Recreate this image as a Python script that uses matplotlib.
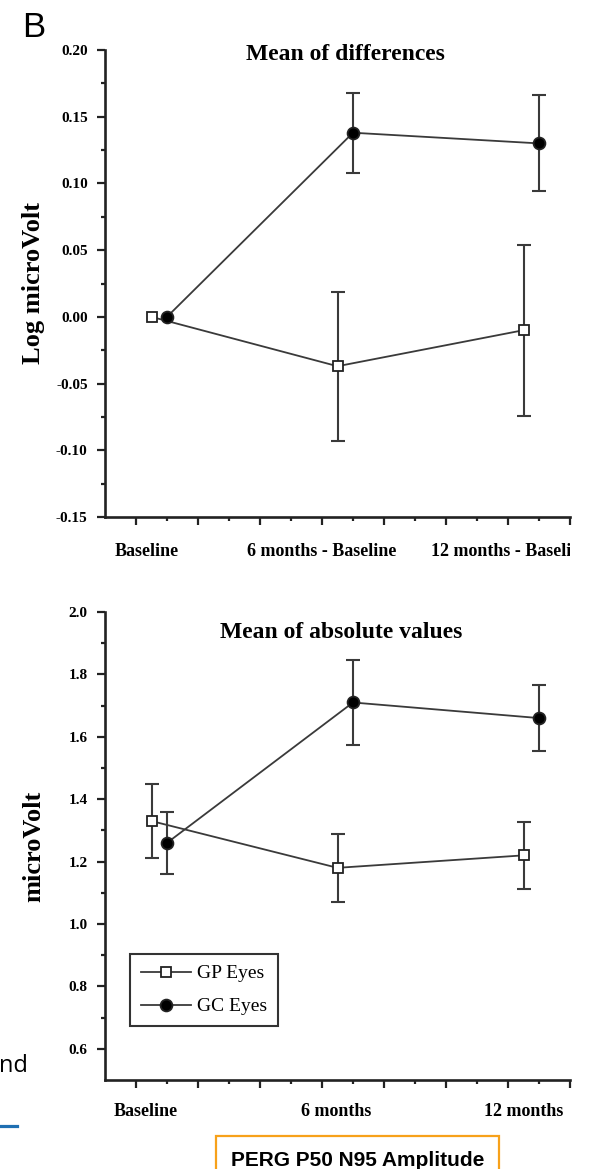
import numpy as np
import matplotlib
matplotlib.use('Agg')
import matplotlib.pyplot as plt
from matplotlib.lines import Line2D
from matplotlib.patches import Rectangle
from matplotlib.transforms import Bbox, TransformedBbox

plt.rcParams['font.family'] = ['Liberation Serif', 'DejaVu Serif']

# data
x_gp = [1.5, 7.5, 13.5]
x_gc = [2.0, 8.0, 14.0]

diff_gp = [0.0, -0.037, -0.010]
diff_gp_err = [0.0, 0.056, 0.064]
diff_gc = [0.0, 0.138, 0.130]
diff_gc_err = [0.0, 0.030, 0.036]

abs_gp = [1.33, 1.18, 1.22]
abs_gp_err = [0.12, 0.11, 0.107]
abs_gc = [1.26, 1.71, 1.66]
abs_gc_err = [0.10, 0.135, 0.105]

top_labels = ['Baseline', '6 months - Baseline', '12 months - Baseline']
top_label_x = [1.35, 7.0, 10.5]
bot_labels = ['Baseline', '6 months', '12 months']
bot_label_x = [1.32, 7.45, 13.5]

W, H = 592, 1169
fig = plt.figure(figsize=(W / 100, H / 100), dpi=100)

line_c = '#3a3a3a'
spine_c = '#222222'


def px(x0, y0, x1, y1):
    # pixel box -> figure fraction rect
    return [x0 / W, 1 - y1 / H, (x1 - x0) / W, (y1 - y0) / H]


def draw_series(ax, x, y, err, marker, mfc, ms, label):
    x = np.array(x)
    y = np.array(y)
    err = np.array(err)
    m = err > 0
    ax.errorbar(x[m], y[m], yerr=err[m], fmt='none', ecolor=line_c,
                elinewidth=1.5, capsize=4.8, capthick=1.5, zorder=2)
    ax.plot(x, y, color=line_c, lw=1.3, marker=marker, ms=ms, mfc=mfc,
            mec='#222222', mew=1.3, zorder=3, label=label)


def style_axes(ax, ylim, ymaj, ymin, fmt):
    ax.set_xlim(0, 15)
    ax.set_ylim(*ylim)
    for s in ['top', 'right']:
        ax.spines[s].set_visible(False)
    for s in ['left', 'bottom']:
        ax.spines[s].set_linewidth(1.9)
        ax.spines[s].set_color(spine_c)
    ax.set_xticks(np.arange(1, 16, 2))
    ax.set_xticks(np.arange(2, 15, 2), minor=True)
    ax.set_xticklabels([])
    ax.set_yticks(ymaj)
    ax.set_yticks(ymin, minor=True)
    ax.set_yticklabels([fmt % v for v in ymaj])
    ax.tick_params(which='major', length=6, width=1.6, color=spine_c, pad=6.5)
    ax.tick_params(which='minor', length=3, width=1.6, color=spine_c)
    for t in ax.get_yticklabels():
        t.set_fontweight('bold')
        t.set_fontsize(11)


# ---------- top panel: mean of differences ----------
ax1 = fig.add_axes(px(105, 50, 570, 517))
draw_series(ax1, x_gp, diff_gp, diff_gp_err, 's', 'white', 7.5, 'GP Eyes')
draw_series(ax1, x_gc, diff_gc, diff_gc_err, 'o', 'black', 8.5, 'GC Eyes')
style_axes(ax1, (-0.15, 0.20), np.arange(-0.15, 0.201, 0.05),
           np.arange(-0.125, 0.2, 0.05), '%.2f')
ax1.set_ylabel('Log microVolt', fontsize=19, fontweight='bold')
ax1.yaxis.set_label_coords(-0.128, 0.5)
ax1.text(0.516, 0.99, 'Mean of differences', transform=ax1.transAxes,
         ha='center', va='center', fontsize=17, fontweight='bold')

clip = TransformedBbox(Bbox([[0, 0], [570 / W, 1]]), fig.transFigure)
for lab, xx in zip(top_labels, top_label_x):
    ha = 'left' if lab.startswith('12') else 'center'
    t = ax1.annotate(lab, xy=(xx, 0), xycoords=('data', 'axes fraction'),
                     xytext=(0, -24.5), textcoords='offset points',
                     ha=ha, va='center', fontsize=13, fontweight='bold',
                     annotation_clip=False)
    t.set_clip_box(clip)
    t.set_clip_on(True)

# ---------- bottom panel: mean of absolute values ----------
ax2 = fig.add_axes(px(105, 612, 570, 1080))
draw_series(ax2, x_gp, abs_gp, abs_gp_err, 's', 'white', 7.5, 'GP Eyes')
draw_series(ax2, x_gc, abs_gc, abs_gc_err, 'o', 'black', 8.5, 'GC Eyes')
style_axes(ax2, (0.5, 2.0), np.arange(0.6, 2.01, 0.2),
           np.arange(0.7, 2.0, 0.2), '%.1f')
ax2.set_ylabel('microVolt', fontsize=19, fontweight='bold')
ax2.yaxis.set_label_coords(-0.128, 0.5)
ax2.text(0.508, 0.957, 'Mean of absolute values', transform=ax2.transAxes,
         ha='center', va='center', fontsize=17, fontweight='bold')
for lab, xx in zip(bot_labels, bot_label_x):
    ax2.annotate(lab, xy=(xx, 0), xycoords=('data', 'axes fraction'),
                 xytext=(0, -23), textcoords='offset points',
                 ha='center', va='center', fontsize=13, fontweight='bold',
                 annotation_clip=False)

leg = ax2.legend(loc='lower left', bbox_to_anchor=(0.054, 0.115),
                 borderaxespad=0, fontsize=14, frameon=True, fancybox=False,
                 handlelength=2.6, handletextpad=0.3, labelspacing=0.8,
                 borderpad=0.55)
leg.get_frame().set_edgecolor('black')
leg.get_frame().set_linewidth(1.5)

# ---------- page bits around the figure ----------
fig.text(22 / W, 1 - 37 / H, 'B', fontsize=25, family='Liberation Sans',
         ha='left', va='baseline')
fig.text(-1 / W, 1 - 1072 / H, 'nd', fontsize=17, family='Open Sans',
         ha='left', va='baseline')
fig.add_artist(Line2D([0, 17 / W], [1 - 1126 / H, 1 - 1126 / H],
                      transform=fig.transFigure, color='#1f6fb2', lw=2.3))
fig.add_artist(Rectangle((216 / W, -0.03), (499 - 216) / W,
                         0.03 + 1 - 1136 / H, transform=fig.transFigure,
                         fill=False, edgecolor='#f7a11a', lw=1.6))
fig.text(357.5 / W, 1 - 1166 / H, 'PERG P50 N95 Amplitude', fontsize=15,
         fontweight='bold', family='Liberation Sans', ha='center',
         va='baseline')

fig.savefig('out.png', dpi=100)
